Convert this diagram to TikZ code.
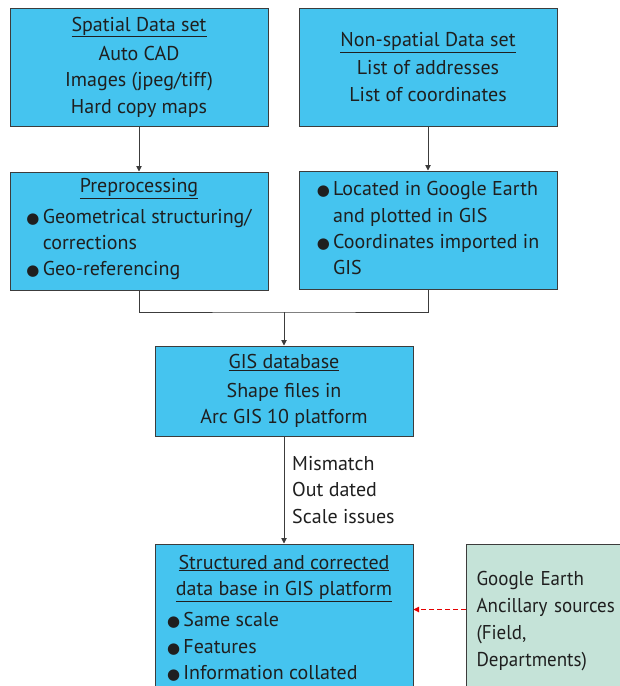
\documentclass[tikz,border=0pt]{standalone}
\usepackage{fontspec}
\setmainfont{PT Sans}
\newfontfamily\symfont{DejaVu Sans}
\usetikzlibrary{arrows.meta}

\definecolor{boxblue}{RGB}{69,196,239}
\definecolor{boxgreen}{RGB}{197,227,216}
\definecolor{edgegray}{RGB}{60,60,60}
\newcommand{\blt}{{\symfont\fontsize{15}{15}\selectfont ●}}

\begin{document}
\begin{tikzpicture}[x=1pt, y=-1pt,
    B/.style={rectangle, draw=edgegray, fill=boxblue, line width=1pt, minimum width=258pt,
              inner sep=0pt, align=center, text=black!88, font=\fontsize{20}{26.3}\selectfont},
    G/.style={rectangle, draw=edgegray, fill=boxgreen, line width=1pt, inner xsep=10pt,
              align=left, text=black!88,
              font=\fontsize{20}{27}\selectfont\addfontfeature{FakeStretch=0.95}},
    L/.style={align=left, inner sep=0pt, text=black!88, font=\fontsize{20}{26.5}\selectfont},
    flow/.style={draw=edgegray, line width=0.9pt, -{Triangle[length=5.5pt, width=5.5pt]}},
    link/.style={draw=edgegray, line width=0.9pt},
    extra/.style={draw=red!90!black, line width=0.9pt, dash pattern=on 5pt off 3pt,
                  -{Triangle[length=5.5pt, width=5.5pt]}}]

    \useasboundingbox (0,0) rectangle (620,686);
    \clip (0,0) rectangle (620,686);

    % Dati di partenza
    \node[B, minimum height=118pt] (spatial) at (139,67)
      {\underline{Spatial Data set}\\[3pt] Auto CAD\\ Images (jpeg/tiff)\\ Hard copy maps};
    \node[B, minimum height=118pt] (nonspatial) at (428,67)
      {\underline{Non-spatial Data set}\\[2pt] List of addresses\\ List of coordinates};

    % Elaborazione
    \node[B, minimum height=118pt] (prep) at (139,231)
      {\underline{Preprocessing}\\[5pt]
       \begin{tabular}{@{}l@{\,}l@{}}
         \blt & Geometrical structuring/\\
              & corrections\\
         \blt & Geo-referencing
       \end{tabular}};
    \node[B, minimum height=118pt] (located) at (428,230)
      {\begin{tabular}{@{}l@{\,}l@{}}
         \blt & Located in Google Earth\\
              & and plotted in GIS\\
         \blt & Coordinates imported in\\
              & GIS
       \end{tabular}};

    % Database GIS
    \node[B, minimum height=90pt] (gisdb) at (284,391)
      {\underline{GIS database}\\[2pt] Shape files in\\ Arc GIS 10 platform};
    \node[L, anchor=west] (issues) at (292,490) {Mismatch\\ Out dated\\ Scale issues};

    % Database finale
    \node[B, minimum height=154pt] (final) at (284,621)
      {\underline{Structured and corrected}\\ \underline{data base in GIS platform}\\[6pt]
       \makebox[234pt][l]{\begin{tabular}{@{}l@{\,}l@{}}
         \blt & Same scale\\
         \blt & Features\\
         \blt & Information collated
       \end{tabular}}};
    \node[G, anchor=north west, minimum height=154pt, text width=160pt] (ancil) at (466,544)
      {Google Earth\\ Ancillary sources\\ (Field,\\ Departments)};

    % Collegamenti
    \coordinate (merge) at (284,312);
    \draw[flow] (spatial) -- (prep);
    \draw[flow] (nonspatial) -- (located);
    \draw[link] (prep.south) |- (merge) -| (located.south);
    \draw[flow] (merge) -- (gisdb);
    \draw[flow] (gisdb) -- (final);
    \draw[extra] ([yshift=12pt]ancil.west) -- ([yshift=12pt]ancil.west -| final.east);
\end{tikzpicture}
\end{document}
